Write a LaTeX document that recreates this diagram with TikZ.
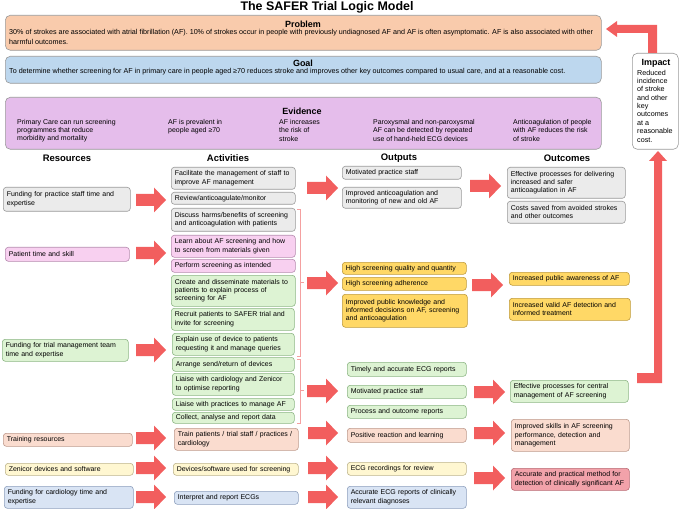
\documentclass[tikz,border=0pt]{standalone}
\usepackage{fontspec}
\setmainfont{Liberation Sans}
\definecolor{arrowred}{HTML}{F25E5E}
\definecolor{grayfill}{HTML}{EBEBEB}\definecolor{grayline}{HTML}{9A9A9A}
\definecolor{pinkfill}{HTML}{F8D0F0}\definecolor{pinkline}{HTML}{B58AAE}
\definecolor{greenfill}{HTML}{DDF3D3}\definecolor{greenline}{HTML}{8DB684}
\definecolor{peachfill}{HTML}{FADCCF}\definecolor{peachline}{HTML}{BE9A8C}
\definecolor{ylwfill}{HTML}{FFF7D1}\definecolor{ylwline}{HTML}{BDB48C}
\definecolor{bluefill}{HTML}{D9E4F4}\definecolor{blueline}{HTML}{8EA0BE}
\definecolor{goldfill}{HTML}{FFD866}\definecolor{goldline}{HTML}{BF9B3C}
\definecolor{redfill}{HTML}{F2A2AA}\definecolor{redline}{HTML}{B96A73}
\definecolor{probfill}{HTML}{F9CBAC}
\definecolor{goalfill}{HTML}{BDD7EE}
\definecolor{evfill}{HTML}{E5BDEB}
\definecolor{brackc}{HTML}{F4A0A0}
\newcommand\fs{\fontsize{7}{8.3}\selectfont}
\newcommand\fsb{\fontsize{7.2}{8.6}\selectfont}
\newcommand\bx[7]{%
  \pgfmathsetmacro\bxh{#6-#4}%
  \pgfmathsetmacro\bxtw{#5-#3-7}%
  \node[#2, anchor=north west, minimum height=\bxh bp, text width=\bxtw bp] (#1) at (#3,#4) {#7};}
\newcommand\rarr[3]{\fill[arrowred, shift={(#1,#2)}] (0,-6) -- (#3-12,-6) -- (#3-12,-12.5) -- (#3,0) -- (#3-12,12.5) -- (#3-12,6) -- (0,6) -- cycle;}
\begin{document}
\begin{tikzpicture}[x=1bp,y=-1bp,
  box/.style={draw, rounded corners=3bp, line width=0.6bp, inner xsep=3.5bp, inner ysep=1bp, align=left, font=\fs},
  gbox/.style={box, fill=grayfill, draw=grayline},
  pbox/.style={box, fill=pinkfill, draw=pinkline},
  grbox/.style={box, fill=greenfill, draw=greenline},
  pcbox/.style={box, fill=peachfill, draw=peachline},
  ybox/.style={box, fill=ylwfill, draw=ylwline},
  bbox/.style={box, fill=bluefill, draw=blueline},
  goldbox/.style={box, fill=goldfill, draw=goldline},
  redbox/.style={box, fill=redfill, draw=redline},
  bigbox/.style={draw=grayline, rounded corners=5bp, line width=0.6bp, inner sep=0pt, anchor=north west},
  ttl/.style={font=\fontsize{9}{11}\selectfont\bfseries, inner sep=0pt},
  hdr/.style={font=\fontsize{9.5}{11}\selectfont\bfseries, inner sep=0pt},
  txt/.style={font=\fs, align=left, inner sep=0pt, anchor=west},
  txtb/.style={font=\fsb, align=left, inner sep=0pt, anchor=west},
  brk/.style={draw=brackc, line width=0.6bp}
]
\useasboundingbox (0,0) rectangle (680,509);
\node[font=\fontsize{12.5}{14}\selectfont\bfseries, inner sep=0pt] (title) at (327,7) {The SAFER Trial Logic Model};

% Problem
\node[bigbox, fill=probfill, minimum width=596bp, minimum height=35bp] (problem) at (5,15) {};
\node[ttl] (problemT) at (303,24) {Problem};
\node[txtb] (problemL1) at (9,33) {30\% of strokes are associated with atrial fibrillation (AF). 10\% of strokes occur in people with previously undiagnosed AF and AF is often asymptomatic. AF is also associated with other};
\node[txtb] (problemL2) at (9,42) {harmful outcomes.};
% Goal
\node[bigbox, fill=goalfill, minimum width=596bp, minimum height=27bp] (goal) at (5,56) {};
\node[ttl] (goalT) at (303,63) {Goal};
\node[txtb] (goalL) at (9,72) {To determine whether screening for AF in primary care in people aged ≥70 reduces stroke and improves other key outcomes compared to usual care, and at a reasonable cost.};
% Evidence
\node[bigbox, fill=evfill, minimum width=596bp, minimum height=52bp] (evidence) at (5,97) {};
\node[ttl] (evidenceT) at (302,111) {Evidence};
\node[txt] (ev1) at (17,130.5) {Primary Care can run screening\\programmes that reduce\\morbidity and mortality};
\node[txt] (ev2) at (168,126.5) {AF is prevalent in\\people aged ≥70};
\node[txt] (ev3) at (279,130.5) {AF increases\\the risk of\\stroke};
\node[txt] (ev4) at (373,130.5) {Paroxysmal and non-paroxysmal\\AF can be detected by repeated\\use of hand-held ECG devices};
\node[txt] (ev5) at (513,130.5) {Anticoagulation of people\\with AF reduces the risk\\of stroke};
% Impact
\node[bigbox, fill=white, minimum width=46bp, minimum height=96bp] (impact) at (632,53) {};
\node[ttl] (impactT) at (656,63) {Impact};
\node[font=\fontsize{7.2}{8.4}\selectfont, align=left, inner sep=0pt, anchor=west] (impactL) at (637,106) {Reduced\\incidence\\of stroke\\and other\\key\\outcomes\\at a\\reasonable\\cost.};
\fill[arrowred] (657,53) -- (657,25) -- (617,25) -- (617,21) -- (606,29) -- (617,37) -- (617,33) -- (648,33) -- (648,53) -- cycle;
\fill[arrowred] (637,373) -- (654,373) -- (654,161) -- (649,161) -- (658,151) -- (667,161) -- (662,161) -- (662,383) -- (637,383) -- cycle;

% headers
\node[hdr] (hres) at (67,158) {Resources};
\node[hdr] (hact) at (228,158) {Activities};
\node[hdr] (hout) at (399,158) {Outputs};
\node[hdr] (hoc) at (567,158) {Outcomes};

% Resources
\bx{r1}{gbox}{3}{187}{130}{211}{Funding for practice staff time and\\expertise}
\bx{r2}{pbox}{5}{247}{129}{261}{Patient time and skill}
\bx{r3}{grbox}{2}{339}{128}{361}{Funding for trial management team\\time and expertise}
\bx{r4}{pcbox}{3}{433}{132}{446}{Training resources}
\bx{r5}{ybox}{5}{463}{133}{475}{Zenicor devices and software}
\bx{r6}{bbox}{4}{486}{133}{508}{Funding for cardiology time and\\expertise}

% Activities
\bx{a1}{gbox}{171}{167}{295}{189}{Facilitate the management of staff to\\improve AF management}
\bx{a2}{gbox}{171}{192}{295}{204}{Review/anticoagulate/monitor}
\bx{a3}{gbox}{171}{208}{295}{231}{Discuss harms/benefits of screening\\and anticoagulation with patients}
\bx{a4}{pbox}{171}{235}{295}{257}{Learn about AF screening and how\\to screen from materials given}
\bx{a5}{pbox}{171}{259}{295}{272}{Perform screening as intended}
\bx{a6}{grbox}{171}{275}{295}{306}{Create and disseminate materials to\\patients to explain process of\\screening for AF}
\bx{a7}{grbox}{171}{308}{294}{330}{Recruit patients to SAFER trial and\\invite for screening}
\bx{a8}{grbox}{172}{333}{294}{355}{Explain use of device to patients\\requesting it and manage queries}
\bx{a9}{grbox}{172}{357}{294}{371}{Arrange send/return of devices}
\bx{a10}{grbox}{172}{373}{294}{395}{Liaise with cardiology and Zenicor\\to optimise reporting}
\bx{a11}{grbox}{172}{398}{294}{410}{Liaise with practices to manage AF}
\bx{a12}{grbox}{172}{412}{294}{423}{Collect, analyse and report data}
\bx{a13}{pcbox}{174}{428}{298}{450}{Train patients / trial staff / practices /\\cardiology}
\bx{a14}{ybox}{173}{463}{298}{475}{Devices/software used for screening}
\bx{a15}{bbox}{174}{491}{298}{504}{Interpret and report ECGs}

% brackets
\draw[brk] (297,209) -- (300,209) -- (300,356) -- (297,356);
\draw[brk] (300,282) -- (304,282);
\draw[brk] (297,359) -- (300,359) -- (300,423) -- (297,423);
\draw[brk] (300,390) -- (304,390);

% Outputs
\bx{o1}{gbox}{342}{166}{461}{179}{Motivated practice staff}
\bx{o2}{gbox}{342}{187}{461}{208}{Improved anticoagulation and\\monitoring of new and old AF}
\bx{o3}{goldbox}{342}{262}{466}{274}{High screening quality and quantity}
\bx{o4}{goldbox}{342}{277}{466}{290}{High screening adherence}
\bx{o5}{goldbox}{342}{294}{467}{327}{Improved public knowledge and\\informed decisions on AF, screening\\and anticoagulation}
\bx{o6}{grbox}{347}{362}{466}{376}{Timely and accurate ECG reports}
\bx{o7}{grbox}{347}{385}{466}{398}{Motivated practice staff}
\bx{o8}{grbox}{347}{405}{466}{418}{Process and outcome reports}
\bx{o9}{pcbox}{347}{428}{466}{442}{Positive reaction and learning}
\bx{o10}{ybox}{347}{462}{466}{475}{ECG recordings for review}
\bx{o11}{bbox}{347}{486}{466}{508}{Accurate ECG reports of clinically\\relevant diagnoses}

% Outcomes
\bx{c1}{gbox}{507}{167}{625}{198}{Effective processes for delivering\\increased and safer\\anticoagulation in AF}
\bx{c2}{gbox}{507}{201}{625}{223}{Costs saved from avoided strokes\\and other outcomes}
\bx{c3}{goldbox}{509}{272}{629}{285}{Increased public awareness of AF}
\bx{c4}{goldbox}{509}{298}{630}{320}{Increased valid AF detection and\\informed treatment}
\bx{c5}{grbox}{510}{380}{628}{402}{Effective processes for central\\management of AF screening}
\bx{c6}{pcbox}{511}{419}{629}{451}{Improved skills in AF screening\\performance, detection and\\management}
\bx{c7}{redbox}{511}{468}{629}{490}{Accurate and practical method for\\detection of clinically significant AF}

% block arrows
\rarr{136}{200}{30}\rarr{136}{253}{30}\rarr{136}{350}{30}
\rarr{136}{438}{30}\rarr{136}{468}{30}\rarr{136}{497}{30}
\rarr{307}{188}{31}\rarr{307}{283}{31}\rarr{307}{391}{31}
\rarr{308}{433}{30}\rarr{308}{468}{30}\rarr{308}{497}{30}
\rarr{470}{186}{31}\rarr{472}{285}{31}\rarr{474}{392}{31}
\rarr{474}{433}{31}\rarr{474}{478}{31}
\end{tikzpicture}
\end{document}
